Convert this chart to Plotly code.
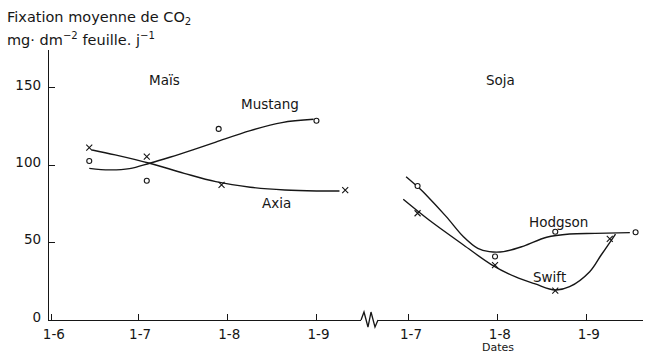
import plotly.graph_objects as go

# ---------------- data ----------------
# Maïs – measured points
mais_dates = ["1975-06-14", "1975-07-04", "1975-07-29", "1975-09-01"]
mustang_vals = [102.8, 90.0, 123.5, 128.8]
axia_dates = ["1975-06-14", "1975-07-04", "1975-07-30", "1975-09-11"]
axia_vals = [111.4, 105.6, 87.3, 84.0]

# Maïs – hand-drawn fitted curves
mustang_curve_dates = ["1975-06-14", "1975-06-21", "1975-06-28", "1975-07-05", "1975-07-12",
                       "1975-07-20", "1975-07-28", "1975-08-09", "1975-08-20", "1975-08-31"]
mustang_curve_vals = [98.0, 97.0, 97.8, 101.3, 105.2, 110.0, 115.0, 122.4, 127.6, 129.7]
axia_curve_dates = ["1975-06-15", "1975-06-23", "1975-07-05", "1975-07-17", "1975-07-28",
                    "1975-08-09", "1975-08-21", "1975-09-01", "1975-09-09"]
axia_curve_vals = [109.9, 106.7, 101.3, 94.8, 89.4, 85.8, 84.0, 83.4, 83.4]

# Soja – measured points
hodgson_dates = ["1975-07-04", "1975-07-31", "1975-08-21", "1975-09-18"]
hodgson_vals = [86.6, 41.0, 57.0, 56.7]
swift_dates = ["1975-07-04", "1975-07-31", "1975-08-21", "1975-09-09"]
swift_vals = [69.0, 35.5, 19.0, 52.4]

# Soja – hand-drawn fitted curves
hodgson_curve_dates = ["1975-06-30", "1975-07-05", "1975-07-07", "1975-07-14", "1975-07-20",
                       "1975-07-25", "1975-07-29", "1975-08-03", "1975-08-10", "1975-08-18",
                       "1975-08-26", "1975-09-04", "1975-09-16"]
hodgson_curve_vals = [92.6, 84.5, 80.8, 66.8, 53.8, 46.3, 44.2, 44.2, 47.8, 53.5, 55.6, 56.0, 56.5]
swift_curve_dates = ["1975-06-29", "1975-07-08", "1975-07-20", "1975-07-30", "1975-08-07",
                     "1975-08-14", "1975-08-21", "1975-08-26", "1975-09-02", "1975-09-06",
                     "1975-09-10", "1975-09-11"]
swift_curve_vals = [78.0, 64.6, 48.5, 35.5, 28.0, 23.3, 19.4, 21.5, 31.2, 42.0, 52.8, 55.5]

# ticks
mais_ticks = ["1975-06-01", "1975-07-01", "1975-08-01", "1975-09-01"]
mais_ticktext = ["1-6", "1-7", "1-8", "1-9"]
soja_ticks = ["1975-07-01", "1975-08-01", "1975-09-01"]
soja_ticktext = ["1-7", "1-8", "1-9"]
y_ticks = [0, 50, 100, 150]

# ---------------- figure ----------------
INK = "#161616"
FONT = "DejaVu Sans"
fig = go.Figure()

def curve(x, y, xaxis):
    fig.add_trace(go.Scatter(x=x, y=y, mode="lines", xaxis=xaxis, yaxis="y",
                             line=dict(color=INK, width=1.4, shape="spline", smoothing=1.0),
                             hoverinfo="skip", showlegend=False))

def pts(x, y, xaxis, symbol, size):
    fig.add_trace(go.Scatter(x=x, y=y, mode="markers", xaxis=xaxis, yaxis="y",
                             marker=dict(symbol=symbol, size=size, color="white",
                                         line=dict(color=INK, width=1.1)),
                             showlegend=False))

curve(mustang_curve_dates, mustang_curve_vals, "x")
curve(axia_curve_dates, axia_curve_vals, "x")
curve(hodgson_curve_dates, hodgson_curve_vals, "x2")
curve(swift_curve_dates, swift_curve_vals, "x2")
pts(mais_dates, mustang_vals, "x", "circle", 5)
pts(axia_dates, axia_vals, "x", "x-thin", 6)
pts(hodgson_dates, hodgson_vals, "x2", "circle", 5)
pts(swift_dates, swift_vals, "x2", "x-thin", 6)

TICKFONT = dict(family=FONT, size=13.5, color=INK)
axis_common = dict(type="date", showline=True, linecolor=INK, linewidth=1.4,
                   ticks="inside", ticklen=6, tickwidth=1.2, tickcolor=INK,
                   showgrid=False, zeroline=False, anchor="y",
                   tickfont=TICKFONT, ticklabelshift=2, ticklabelstandoff=2)

fig.update_layout(
    width=659, height=354,
    margin=dict(l=49, r=16, t=50, b=34),
    paper_bgcolor="white", plot_bgcolor="white",
    font=dict(family=FONT, color=INK),
    xaxis=dict(domain=[0, 0.5253], range=["1975-05-31", "1975-09-16 12:00"],
               tickvals=mais_ticks, ticktext=mais_ticktext, **axis_common),
    xaxis2=dict(domain=[0.5539, 1], range=["1975-06-20 05:00", "1975-09-20 14:00"],
                tickvals=soja_ticks, ticktext=soja_ticktext, **axis_common),
    yaxis=dict(range=[0, 174.5], tickvals=y_ticks, showline=True, linecolor=INK, linewidth=1.4,
               ticks="inside", ticklen=6, tickwidth=1.2, tickcolor=INK, showgrid=False,
               zeroline=False, tickfont=TICKFONT,
               ticklabelshift=-3, ticklabelstandoff=4),
    showlegend=False,
)

# axis break zigzag
fig.add_shape(type="path", xref="paper", yref="paper",
              path="M 0.5253 0 L 0.5303 0.0296 L 0.5370 -0.026 L 0.5421 0.0296 L 0.5488 -0.026 L 0.5539 0",
              line=dict(color=INK, width=1.3))

def note(text, x, y, xref="x", yref="y", size=13.5, **kw):
    fig.add_annotation(text=text, x=x, y=y, xref=xref, yref=yref, showarrow=False,
                       font=dict(family=FONT, size=size, color=INK), **kw)

note("Fixation moyenne de CO<sub>2</sub>", -0.074, 1.119, "paper", "paper", 14.5,
     xanchor="left", yanchor="middle")
note("mg· dm<sup>−2</sup> feuille. j<sup>−1</sup>", -0.074, 1.041, "paper", "paper", 14.5,
     xanchor="left", yanchor="middle")
note("Maïs", "1975-07-10", 155, "x")
note("Soja", "1975-08-02", 155, "x2")
note("Mustang", "1975-08-16", 139.6, "x")
note("Axia", "1975-08-18", 75.6, "x")
note("Hodgson", "1975-08-22", 63.3, "x2")
note("Swift", "1975-08-19", 27.8, "x2")
note("Dates", "1975-08-01", -0.1, "x2", "paper", 11, yanchor="middle")

fig.write_html("out.html", post_script="document.body.style.margin='0';",
               config={"displayModeBar": False})
